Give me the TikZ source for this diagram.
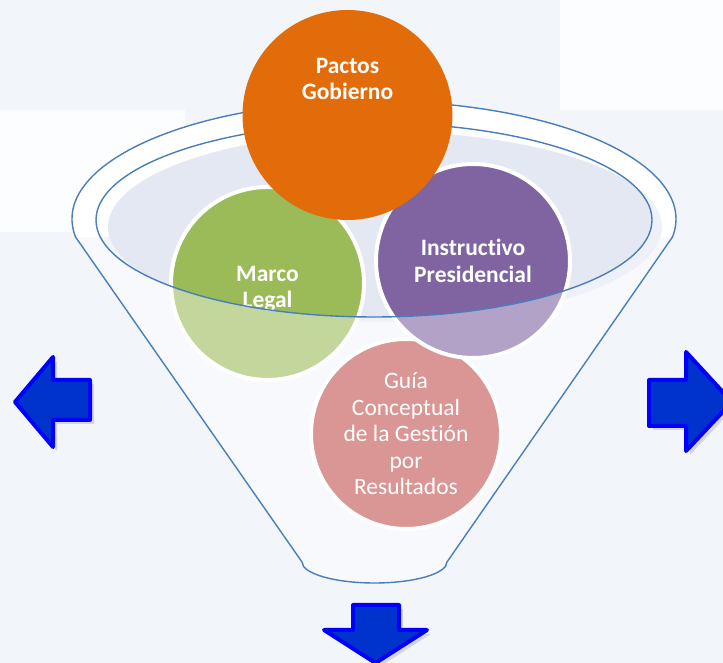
\documentclass[tikz,border=0pt]{standalone}
\usepackage{fontspec}
\setmainfont[Ligatures=NoCommon]{Carlito}
\usetikzlibrary{shadows}
\definecolor{fnorange}{RGB}{227,108,10}
\definecolor{fngreen}{RGB}{155,187,89}
\definecolor{fnpurple}{RGB}{128,100,162}
\definecolor{fnred}{RGB}{192,80,77}
\definecolor{fnline}{RGB}{74,126,187}
\definecolor{fninside}{RGB}{228,232,242}
\definecolor{fnbg}{RGB}{242,245,250}
\definecolor{fnband}{RGB}{252,253,254}
\definecolor{arrfill}{RGB}{0,51,204}
\definecolor{arrdraw}{RGB}{0,0,255}

\begin{document}
\begin{tikzpicture}[x=1pt, y=1pt,
  ball/.style={circle, draw=white, line width=4pt, inner sep=0pt,
    text=white, align=center, font=\bfseries\fontsize{23.5}{26.5}\selectfont},
  balltext/.style={text=white, align=center, font=\bfseries\fontsize{23.5}{26.5}\selectfont},
  funline/.style={draw=fnline, line width=1.4pt},
  blockarr/.style={fill=arrfill, draw=arrdraw, line width=4pt, line join=round,
    drop shadow={shadow xshift=4pt, shadow yshift=-4pt, opacity=0.25}}]
% Background
\fill[fnbg] (0,0) rectangle (723,663);
\fill[fnband] (0,431) rectangle (185,553);
\fill[fnband] (560,553) rectangle (723,663);
\useasboundingbox (0,0) rectangle (723,663);
\clip (0,0) rectangle (723,663);
% Funnel mouth
\coordinate (rimc) at (374,444);
\path (rimc) ++(188.8:302pt and 118pt) coordinate (rimL);
\fill[white] (rimL) arc[start angle=188.8, end angle=-8.8, x radius=302, y radius=118] -- cycle;
\fill[fninside] (385,436) ellipse[x radius=277, y radius=95];
% Circles inside the funnel
\node[ball, fill=fnred, minimum size=190, font=\fontsize{23.5}{26.5}\selectfont]
  (guia) at (406,229) {Guía\\Conceptual\\de la Gestión\\por\\Resultados};
\node[ball, fill=fngreen, minimum size=193] (marco) at (267.5,379.5) {};
\node[balltext] (marcotext) at (267.5,374) {Marco\\Legal};
\node[ball, fill=fnpurple, minimum size=194] (instructivo) at (473,402) {Instructivo\\Presidencial};
% Front wall of the funnel
\fill[white, fill opacity=0.4, even odd rule]
  (rimL) arc[start angle=188.8, end angle=-8.8, x radius=302, y radius=118]
  -- (447,101) arc[start angle=0, end angle=-180, x radius=72.5, y radius=21] -- cycle
  (374,443) ellipse[x radius=278, y radius=97];
\draw[funline] (374,443) ellipse[x radius=278, y radius=97];
\draw[funline] (rimL) arc[start angle=188.8, end angle=-8.8, x radius=302, y radius=118]
  -- (447,101) arc[start angle=0, end angle=-180, x radius=72.5, y radius=21] -- cycle;
% Top circle
\node[circle, fill=fnorange, inner sep=0pt, minimum size=210] (pactos) at (347.5,548) {};
\node[balltext] (pactostext) at (347.5,584) {Pactos\\Gobierno};
% Arrows
\path[blockarr] (15,261) -- (53,306) -- (53,283) -- (90,283) -- (90,243) -- (53,243) -- (53,216) -- cycle;
\path[blockarr] (732,261) -- (686,311) -- (686,283) -- (649,283) -- (649,237) -- (686,237) -- (686,212) -- cycle;
\path[blockarr] (375.5,0) -- (324,33) -- (353,33) -- (353,58) -- (399,58) -- (399,33) -- (427,33) -- cycle;
\end{tikzpicture}
\end{document}
